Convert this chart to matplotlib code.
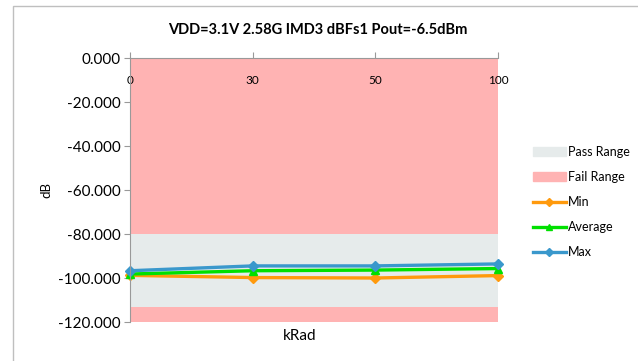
import numpy as np
import matplotlib.pyplot as plt
from matplotlib.patches import Patch, Rectangle
from matplotlib.lines import Line2D

plt.rcParams['font.family'] = ['Lato', 'DejaVu Sans']

krad = ['0', '30', '50', '100']
min_vals = [-98.8, -99.8, -100.0, -98.9]
avg_vals = [-98.2, -96.7, -96.4, -95.7]
max_vals = [-96.7, -94.5, -94.5, -93.6]
pass_lo, pass_hi = -113.0, -80.0

fig = plt.figure(figsize=(6.38, 3.61), dpi=100)
fig.patches.append(Rectangle((13 / 638, -0.1), 1.2, 1 - 6 / 361 + 0.1,
                             transform=fig.transFigure, fill=False,
                             edgecolor='#BFBFBF', linewidth=1))
ax = fig.add_axes([130 / 638, 1 - 322 / 361, 368 / 638, 264 / 361])

x = np.arange(len(krad))
ax.fill_between(x, 0, pass_hi, color='#FFB3B3', linewidth=0)
ax.fill_between(x, pass_hi, pass_lo, color='#E6EBEB', linewidth=0)
ax.fill_between(x, pass_lo, -120, color='#FFB3B3', linewidth=0)

ax.plot(x, min_vals, color='#FF9A0D', lw=2.4, marker='D', ms=5, label='Min', clip_on=False)
ax.plot(x, avg_vals, color='#00E000', lw=2.4, marker='^', ms=6, label='Average', clip_on=False)
ax.plot(x, max_vals, color='#3A98CC', lw=2.4, marker='D', ms=5, label='Max', clip_on=False)

ax.set_xlim(0, len(krad) - 1)
ax.set_ylim(-120, 0)
ax.set_yticks(np.arange(-120, 1, 20))
ax.set_yticklabels([f'{v:.3f}' for v in np.arange(-120, 1, 20)], fontsize=11)
ax.set_xticks(x)
ax.set_xticklabels(krad, fontsize=8.5)
ax.tick_params(axis='x', top=True, bottom=False, labeltop=True, labelbottom=False,
               direction='out', length=4, pad=-24, color='#999999')
ax.tick_params(axis='y', direction='out', length=4, color='#999999', pad=3)
for s in ['right', 'bottom']:
    ax.spines[s].set_visible(False)
ax.spines['left'].set_color('#999999')
ax.spines['top'].set_color('#999999')

ax.set_ylabel('dB', fontsize=9.5, labelpad=4)
fig.text(300 / 638, 1 - 336 / 361, 'kRad', fontsize=11, ha='center', va='center')
fig.text(318 / 638, 1 - 30 / 361, 'VDD=3.1V 2.58G IMD3 dBFs1 Pout=-6.5dBm',
         fontsize=10.5, fontweight='bold', ha='center', va='center')

handles = [Patch(color='#E6EBEB', label='Pass Range'),
           Patch(color='#FFB3B3', label='Fail Range'),
           Line2D([], [], color='#FF9A0D', lw=2.4, marker='D', ms=4, label='Min'),
           Line2D([], [], color='#00E000', lw=2.4, marker='^', ms=5, label='Average'),
           Line2D([], [], color='#3A98CC', lw=2.4, marker='D', ms=4, label='Max')]
fig.legend(handles=handles, loc='center left', bbox_to_anchor=(528 / 638, 1 - 202 / 361),
           frameon=False, fontsize=9, handlelength=2.6, labelspacing=1.05,
           handletextpad=0.2, borderaxespad=0)

fig.savefig('out.png', dpi=100)
